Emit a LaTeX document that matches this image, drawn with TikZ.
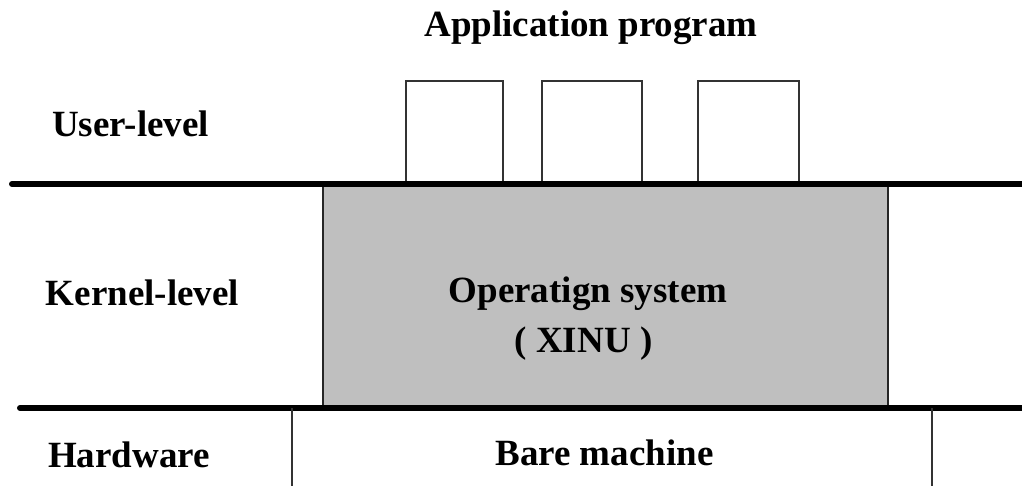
\documentclass[tikz,border=0pt]{standalone}
\usepackage{fontspec}
\setmainfont{Liberation Serif}
\usetikzlibrary{positioning}
\begin{document}
\begin{tikzpicture}[x=1pt,y=-1pt]

\tikzset{
  lbl/.style   = {font=\fontsize{37}{42}\selectfont\bfseries, inner sep=0pt, anchor=base},
  appbox/.style= {draw=black!80, line width=1.3pt, minimum height=103pt, inner sep=0pt},
  osbox/.style = {draw=black!85, fill=black!25, line width=1.3pt, inner sep=0pt,
                  minimum width=565pt, minimum height=224pt},
  layer/.style = {line width=6pt, line cap=round},
  wall/.style  = {draw=black!80, line width=1.3pt},
}
\useasboundingbox (0,0) rectangle (1022,486);

% layers
\node[osbox] (os) at (605.5,296) {};
\node[appbox, minimum width=97pt]  (app1) at (454.5,132.5) {};
\node[appbox, minimum width=100pt] (app2) at (592,132.5) {};
\node[appbox, minimum width=101pt] (app3) at (748.5,132.5) {};
\coordinate (userL) at (12,184);
\coordinate (userR) at (1022,184);
\coordinate (kernL) at (20,408);
\coordinate (kernR) at (1022,408);
\draw[layer] (userL) -- (userR);
\draw[layer] (kernL) -- (kernR);
\coordinate (hwL) at (292,486);
\coordinate (hwR) at (932,486);
\draw[wall] (hwL |- kernL) -- (hwL);
\draw[wall] (hwR |- kernL) -- (hwR);

% texts
\node[lbl] (apptxt) at (591,37) {Application program};
\node[lbl] (user) at (130.5,137) {User-level};
\node[lbl] (kernel) at (142.5,305) {Kernel-level};
\node[lbl] (hw) at (129,467) {Hardware};
\node[lbl] (osname) at (588,302) {Operatign system};
\node[lbl] (xinu) at (583.5,352) {( XINU )};
\node[lbl] (bare) at (604.5,465) {Bare machine};
\end{tikzpicture}
\end{document}
